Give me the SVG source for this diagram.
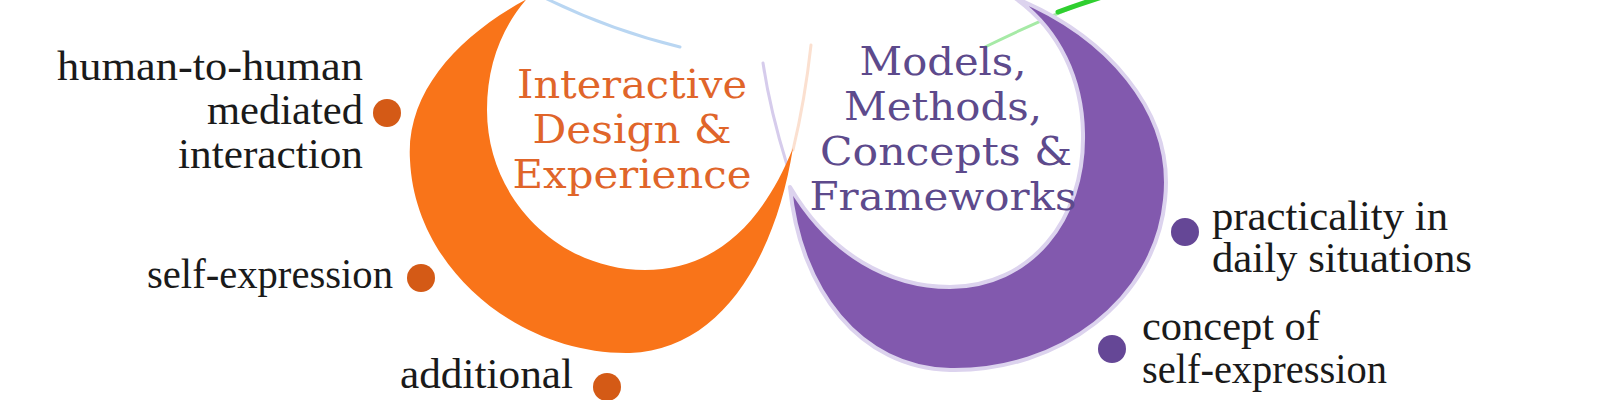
<svg xmlns="http://www.w3.org/2000/svg" width="1600" height="400" viewBox="0 0 1600 400">
<style>
.bg{fill:#ffffff}
.title{font-family:"DejaVu Serif","Liberation Serif",serif;font-size:40px;text-anchor:middle}
.t-orange{fill:#e0652a}
.t-purple{fill:#5d4a8c}
.label{font-family:"Liberation Serif","Times New Roman",serif;font-size:42px;fill:#1a1a1a}
.end{text-anchor:end}
.dot-o{fill:#d45a16}
.dot-p{fill:#654796}
.thin{fill:none;stroke-linecap:round}
</style>
<rect class="bg" x="0" y="0" width="1600" height="400"/>

<g id="connectors">
  <path class="thin" d="M 545 -2 Q 610 30 680 47" stroke="#b9d6f2" stroke-width="3"/>
  <path class="thin" d="M 985 47 Q 1040 20 1100 -4" stroke="#a6eaa6" stroke-width="3"/>
  <path class="thin" d="M 1058 12 Q 1080 4 1102 -3" stroke="#2fcf2f" stroke-width="5"/>
  <path class="thin" d="M 763 63 Q 770 110 787 165" stroke="#d6ccec" stroke-width="3"/>
  <path class="thin" d="M 811 45 Q 805 100 793 150" stroke="#fbe0d0" stroke-width="3"/>
</g>

<g id="node-interactive-design">
  <path d="M 545 -10 C 470 25, 405 85, 410 160 C 415 270, 520 355, 630 353 C 720 350, 775 260, 793 148 C 760 230, 710 270, 645 270 C 560 270, 487 200, 487 110 C 487 60, 505 20, 535 -10 Z" fill="#f97419"/>
  <text class="title t-orange" x="632" y="98" textLength="230" lengthAdjust="spacingAndGlyphs">Interactive</text>
  <text class="title t-orange" x="632" y="143" textLength="199" lengthAdjust="spacingAndGlyphs">Design &amp;</text>
  <text class="title t-orange" x="632" y="188" textLength="239" lengthAdjust="spacingAndGlyphs">Experience</text>
</g>

<g id="node-models-methods">
  <path d="M 1015 -2 C 1105 35, 1175 110, 1165 200 C 1155 300, 1060 372, 950 370 C 860 368, 800 290, 790 187 C 830 255, 890 287, 950 287 C 1030 287, 1085 220, 1083 133 C 1082 80, 1060 30, 1015 -2 Z" fill="#8259ae" stroke="#dcd3ee" stroke-width="4" stroke-linejoin="round"/>
  <text class="title t-purple" x="943" y="75" textLength="167" lengthAdjust="spacingAndGlyphs">Models,</text>
  <text class="title t-purple" x="943" y="120" textLength="198" lengthAdjust="spacingAndGlyphs">Methods,</text>
  <text class="title t-purple" x="946" y="165" textLength="252" lengthAdjust="spacingAndGlyphs">Concepts &amp;</text>
  <text class="title t-purple" x="943" y="210" textLength="267" lengthAdjust="spacingAndGlyphs">Frameworks</text>
</g>

<g id="label-human-mediated">
  <circle class="dot-o" cx="387" cy="113" r="14"/>
  <text class="label end" x="363" y="80" textLength="306" lengthAdjust="spacingAndGlyphs">human-to-human</text>
  <text class="label end" x="363" y="124" textLength="156" lengthAdjust="spacingAndGlyphs">mediated</text>
  <text class="label end" x="363" y="168" textLength="185" lengthAdjust="spacingAndGlyphs">interaction</text>
</g>

<g id="label-self-expression">
  <circle class="dot-o" cx="421" cy="278" r="14"/>
  <text class="label end" x="393" y="288" textLength="246" lengthAdjust="spacingAndGlyphs">self-expression</text>
</g>

<g id="label-additional">
  <circle class="dot-o" cx="607" cy="387" r="14"/>
  <text class="label" x="400" y="388" textLength="173" lengthAdjust="spacingAndGlyphs">additional</text>
</g>

<g id="label-practicality">
  <circle class="dot-p" cx="1185" cy="232" r="14"/>
  <text class="label" x="1212" y="230" textLength="236" lengthAdjust="spacingAndGlyphs">practicality in</text>
  <text class="label" x="1212" y="272" textLength="260" lengthAdjust="spacingAndGlyphs">daily situations</text>
</g>

<g id="label-concept-self-expression">
  <circle class="dot-p" cx="1112" cy="349" r="14"/>
  <text class="label" x="1142" y="340" textLength="178" lengthAdjust="spacingAndGlyphs">concept of</text>
  <text class="label" x="1142" y="383" textLength="245" lengthAdjust="spacingAndGlyphs">self-expression</text>
</g>
</svg>
